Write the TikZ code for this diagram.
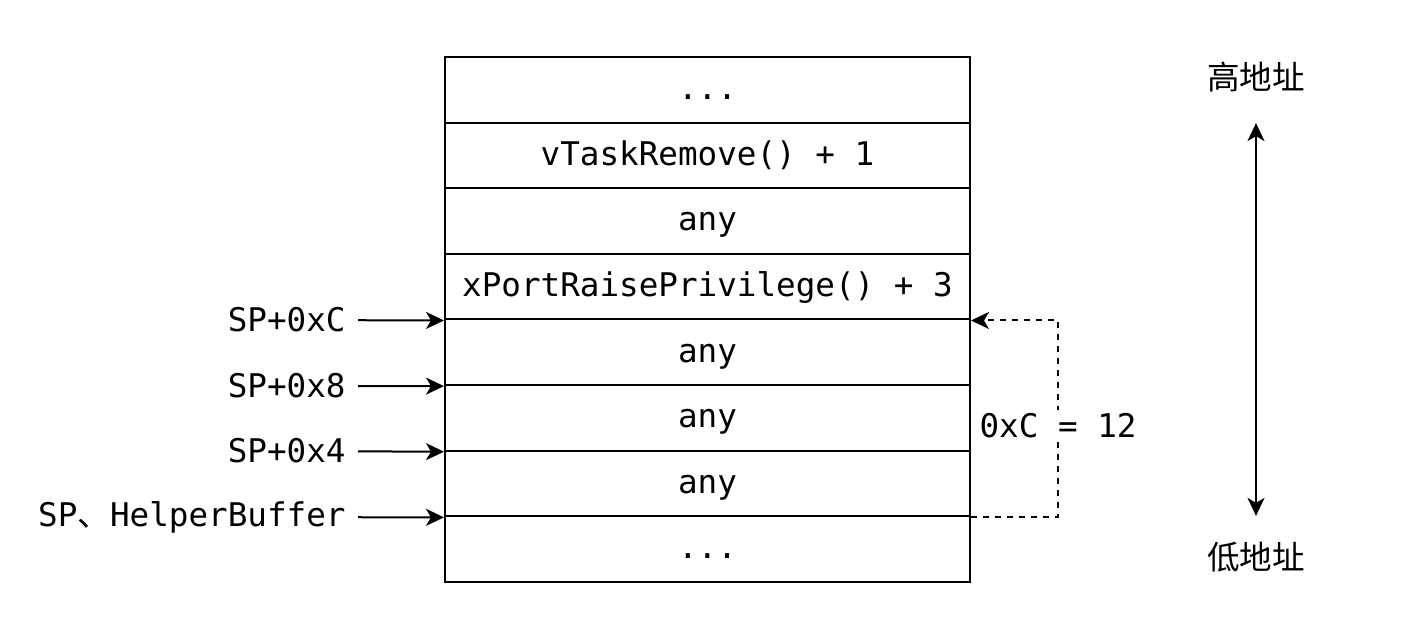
\documentclass[tikz,border=0pt]{standalone}
\usepackage{fontspec}
\setmonofont{DejaVu Sans Mono}
\newfontfamily\cjk{Noto Sans CJK SC}
\usetikzlibrary{positioning,arrows.meta}

\tikzset{
  cell/.style={draw, line width=1pt, minimum width=262.5pt, minimum height=32.8125pt,
    inner sep=0pt, text height=12.2pt, text depth=2.4pt, font=\fontsize{16.3}{19}\ttfamily},
  ptr/.style={anchor=east, inner xsep=6pt, font=\fontsize{16.3}{19}\ttfamily},
  addr/.style={font=\fontsize{16.3}{19}\cjk},
  arr/.style={line width=1pt, -{Stealth[length=9pt, width=8.5pt, inset=2.5pt]}}
}

\begin{document}
\begin{tikzpicture}[x=0.5pt, y=-0.5pt, node distance=32.8125pt, on grid]
    \useasboundingbox (0,0) rectangle (1408,637);

    % stack frame
    \node[cell] (r1) at (707.5,89.8) {...};
    \node[cell, below=of r1] (r2) {vTaskRemove() + 1};
    \node[cell, below=of r2] (r3) {any};
    \node[cell, below=of r3] (r4) {xPortRaisePrivilege() + 3};
    \node[cell, below=of r4] (r5) {any};
    \node[cell, below=of r5] (r6) {any};
    \node[cell, below=of r6] (r7) {any};
    \node[cell, below=of r7] (r8) {...};

    % stack pointers
    \node[ptr] (sp3) at (358,320) {SP+0xC};
    \node[ptr] (sp2) at (358,386) {SP+0x8};
    \node[ptr] (sp1) at (358,451) {SP+0x4};
    \node[ptr] (sp0) at (358,517) {SP{\cjk 、}HelperBuffer};

    \draw[arr] (sp3) -- (r4.south west);
    \draw[arr] (sp2) -- (r5.south west);
    \draw[arr] (sp1) -- (r6.south west);
    \draw[arr] (sp0) -- (r7.south west);

    % offset
    \draw[arr, dashed] (r7.south east) -- ++(87,0) |- (r4.south east);
    \node[fill=white, inner sep=2pt, font=\fontsize{16.3}{19}\ttfamily] (off) at (1058,426) {0xC = 12};

    % address direction
    \node[addr] (hi) at (1256,77) {高地址};
    \node[addr] (lo) at (1256,557) {低地址};
    \draw[arr, {Stealth[length=9pt, width=8.5pt, inset=2.5pt]}-{Stealth[length=9pt, width=8.5pt, inset=2.5pt]},
      shorten <=12pt, shorten >=9.5pt] (hi) -- (lo);
\end{tikzpicture}
\end{document}
